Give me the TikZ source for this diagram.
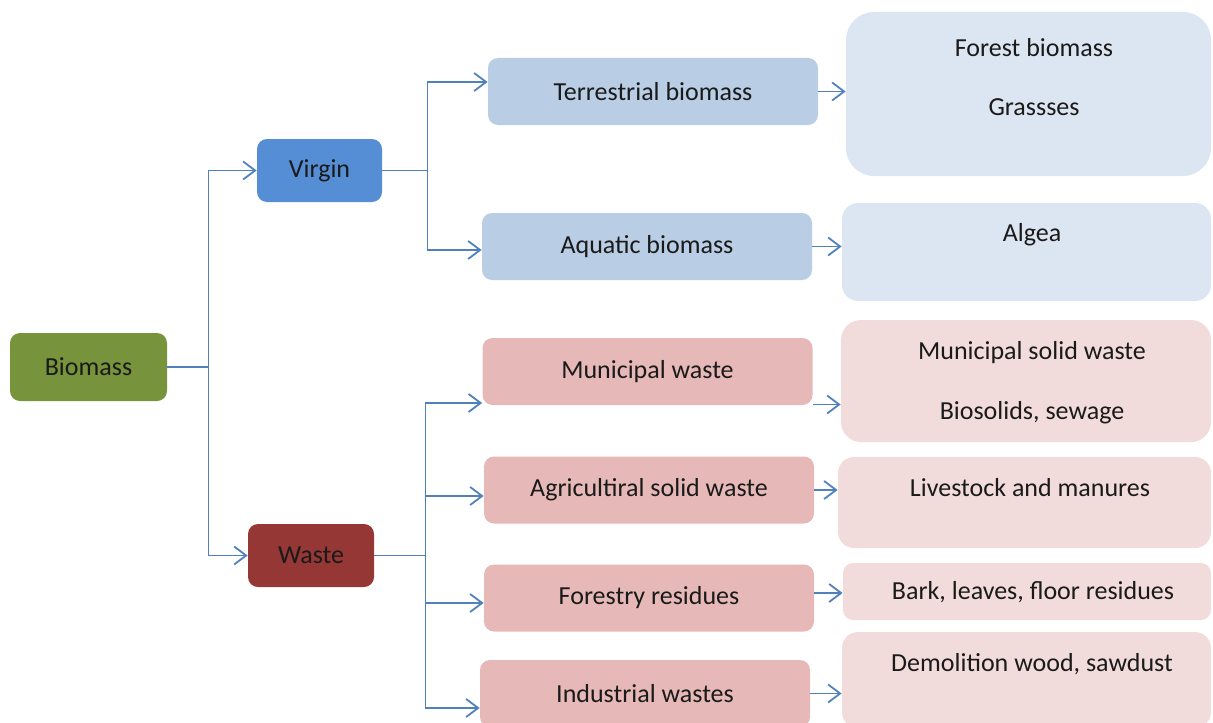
\documentclass[tikz,border=0pt]{standalone}
\usepackage{fontspec}
\setmainfont{Carlito}
\usetikzlibrary{arrows.meta}

\definecolor{biogreen}{HTML}{77933C}
\definecolor{virginblue}{HTML}{558ED5}
\definecolor{wastered}{HTML}{953735}
\definecolor{midblue}{HTML}{B9CDE5}
\definecolor{lightblue}{HTML}{DCE6F2}
\definecolor{midred}{HTML}{E6B9B8}
\definecolor{lightred}{HTML}{F2DCDB}
\definecolor{linkblue}{HTML}{4F81BD}
\definecolor{txt}{HTML}{1A1A1A}

\tikzset{
  box/.style={rounded corners=5pt, inner sep=0pt, text=txt,
    minimum width=165pt, minimum height=33.5pt,
    font=\fontsize{13}{15}\selectfont},
  rbox/.style={box, rounded corners=8pt, minimum width=184.5pt},
  lbl/.style={inner sep=1pt, text=txt, font=\fontsize{13}{15}\selectfont},
  link/.style={draw=linkblue, line width=0.9pt},
  arr/.style={link, -{Straight Barb[length=6pt,width=9pt]}}
}

\begin{document}
\begin{tikzpicture}[x=0.5pt,y=-0.5pt]
  \useasboundingbox (0,0) rectangle (1213,722);

  % first level
  \node[box, fill=biogreen, minimum width=78.5pt, minimum height=34pt] (biomass) at (88.5,367) {Biomass};
  \node[box, fill=virginblue, minimum width=62.5pt, minimum height=31.5pt] (virgin) at (319.5,170.5) {Virgin};
  \node[box, fill=wastered, minimum width=63pt, minimum height=31.5pt] (waste) at (311,555.5) {Waste};

  % second level
  \node[box, fill=midblue] (terr) at (653,91.5) {Terrestrial biomass};
  \node[box, fill=midblue] (aqua) at (647,246.5) {Aquatic biomass};
  \node[box, fill=midred] (muni) at (647.5,371.5) {Municipal waste};
  \node[box, fill=midred] (agri) at (649,490) {Agricultiral solid waste};
  \node[box, fill=midred] (fore) at (649,598) {Forestry residues};
  \node[box, fill=midred] (indu) at (645,693.5) {Industrial wastes};

  % third level
  \node[rbox, fill=lightblue, rounded corners=14pt, minimum width=182.5pt, minimum height=82pt] (forestbox) at (1028.5,94) {};
  \node[rbox, fill=lightblue, minimum height=49pt] (algeabox) at (1026.5,252) {};
  \node[rbox, fill=lightred, rounded corners=10pt, minimum width=185pt, minimum height=61pt] (mswbox) at (1026,381) {};
  \node[rbox, fill=lightred, minimum width=186.5pt, minimum height=45.5pt] (livebox) at (1024.5,502.5) {};
  \node[rbox, fill=lightred, rounded corners=5pt, minimum width=184pt, minimum height=28.5pt] (barkbox) at (1027,591.5) {};
  \node[rbox, fill=lightred, minimum height=48pt] (demobox) at (1026.5,680) {};

  % texts
  \node[lbl] (fb) at (1034,48) {Forest biomass};
  \node[lbl] (gr) at (1034,107) {Grassses};
  \node[lbl] (al) at (1032,235) {Algea};
  \node[lbl] (msw) at (1032,353) {Municipal solid waste};
  \node[lbl] (bs) at (1032,413) {Biosolids, sewage};
  \node[lbl] (ls) at (1030,488) {Livestock and manures};
  \node[lbl] (bk) at (1033,592) {Bark, leaves, floor residues};
  \node[lbl] (dw) at (1032,664) {Demolition wood, sawdust};

  % connectors
  \draw[link] (biomass.east) -- ++(41,0) coordinate (j1);
  \draw[arr] (j1) |- (virgin.west);
  \draw[arr] (j1) |- (waste.west);

  \draw[link] (virgin.east) -- ++(45,0) coordinate (j2);
  \draw[arr] (j2) |- ([yshift=4.75pt]terr.west);
  \draw[arr] (j2) |- ([yshift=-1.75pt]aqua.west);

  \draw[link] (waste.east) -- ++(51,0) coordinate (j3);
  \draw[arr] (j3) |- ([yshift=-15.75pt]muni.west);
  \draw[arr] (j3) |- ([yshift=-3pt]agri.west);
  \draw[arr] (j3) |- ([yshift=-2.5pt]fore.west);
  \draw[arr] (j3) |- ([yshift=-7.25pt]indu.west);

  \draw[arr] (terr.east) -- (terr.east -| forestbox.west);
  \draw[arr] (aqua.east) -- (aqua.east -| algeabox.west);
  \draw[arr] ([yshift=-16.5pt]muni.east) -- ([yshift=-16.5pt]muni.east -| mswbox.west);
  \draw[arr] (agri.east) -- (agri.east -| livebox.west);
  \draw[arr] ([yshift=2.5pt]fore.east) -- ([yshift=2.5pt]fore.east -| barkbox.west);
  \draw[arr] (indu.east) -- (indu.east -| demobox.west);
\end{tikzpicture}
\end{document}
